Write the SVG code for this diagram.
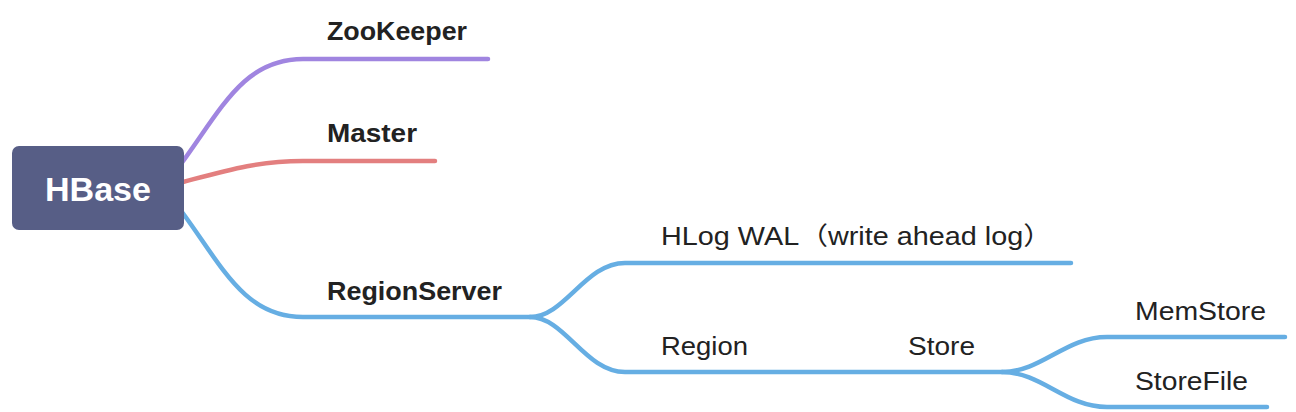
<svg xmlns="http://www.w3.org/2000/svg" width="1296" height="412" viewBox="0 0 1296 412">
  <style>
    .lbl { font-family: "Liberation Sans", Arial, sans-serif; font-size: 25px; fill: #222222; }
    .b { font-weight: bold; }
    .root { font-family: "Liberation Sans", Arial, sans-serif; font-size: 34px; font-weight: bold; fill: #ffffff; }
    .cjk { font-family: "Liberation Sans", "Noto Sans CJK SC", sans-serif; }
    .ln { fill: none; stroke-width: 4.5; stroke-linecap: round; stroke-linejoin: round; }
    .purple { stroke: #a085e0; }
    .red { stroke: #e37f7f; }
    .blue { stroke: #66aee3; }
  </style>
  <rect width="1296" height="412" fill="#ffffff"/>
  <g id="connectors">
    <path class="ln purple" d="M181,164 C222,108 244,59 303,59 L488,59"/>
    <path class="ln red" d="M183,182 C228,170 258,161 303,161 L435,161"/>
    <path class="ln blue" d="M182,212 C222,266 244,317 303,317 L530,317"/>
    <path class="ln blue" d="M530,317 C565,317 585,263 625,263 L1071,263"/>
    <path class="ln blue" d="M530,317 C565,317 585,372 625,372 L1002,372"/>
    <path class="ln blue" d="M1002,372 C1042,372 1065,337 1107,337 L1285,337"/>
    <path class="ln blue" d="M1002,372 C1042,372 1065,407 1107,407 L1267,407"/>
  </g>
  <g id="node-hbase">
    <rect x="12" y="146" width="172" height="84" rx="7" fill="#575e86"/>
    <text class="root" x="45" y="201" textLength="106" lengthAdjust="spacingAndGlyphs">HBase</text>
  </g>
  <g id="node-zookeeper">
    <text class="lbl b" x="327" y="40" textLength="140" lengthAdjust="spacingAndGlyphs">ZooKeeper</text>
  </g>
  <g id="node-master">
    <text class="lbl b" x="327" y="142" textLength="90" lengthAdjust="spacingAndGlyphs">Master</text>
  </g>
  <g id="node-regionserver">
    <text class="lbl b" x="327" y="300" textLength="175" lengthAdjust="spacingAndGlyphs">RegionServer</text>
  </g>
  <g id="node-hlog">
    <text class="lbl cjk" x="661" y="245" textLength="391" lengthAdjust="spacingAndGlyphs">HLog WAL（write ahead log）</text>
  </g>
  <g id="node-region">
    <text class="lbl" x="661" y="355" textLength="87" lengthAdjust="spacingAndGlyphs">Region</text>
  </g>
  <g id="node-store">
    <text class="lbl" x="908" y="355" textLength="67" lengthAdjust="spacingAndGlyphs">Store</text>
  </g>
  <g id="node-memstore">
    <text class="lbl" x="1135" y="320" textLength="131" lengthAdjust="spacingAndGlyphs">MemStore</text>
  </g>
  <g id="node-storefile">
    <text class="lbl" x="1135" y="390" textLength="113" lengthAdjust="spacingAndGlyphs">StoreFile</text>
  </g>
</svg>
